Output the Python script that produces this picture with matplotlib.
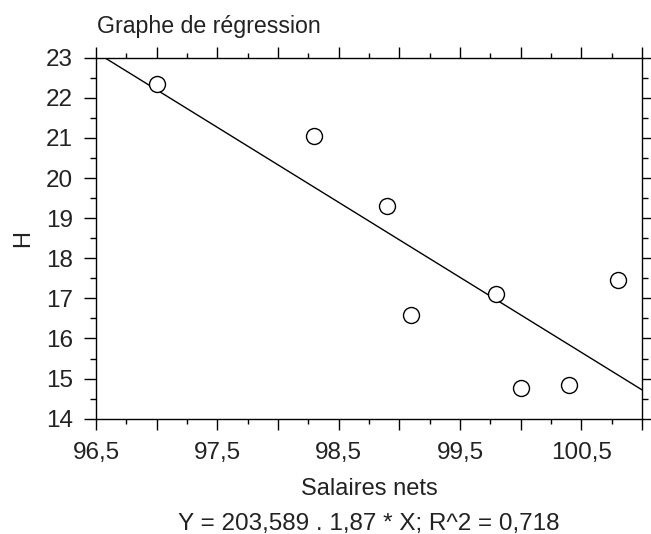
import numpy as np
import matplotlib
matplotlib.use("Agg")
from matplotlib import pyplot as plt
from matplotlib.ticker import MultipleLocator, FuncFormatter

salaires = [97.0, 98.3, 98.9, 99.1, 99.8, 100.0, 100.4, 100.8]
h_values = [22.35, 21.05, 19.30, 16.58, 17.12, 14.76, 14.85, 17.47]
intercept = 203.589
slope = -1.87

plt.rcParams['font.family'] = ['Liberation Sans', 'DejaVu Sans']
txt_color = '#222222'

fig = plt.figure(figsize=(6.51, 5.34), dpi=100)
ax = fig.add_axes([96/651, 1-418.7/534, (642-96)/651, (418.7-57.7)/534])

xlim = (96.5, 101.0)
ylim = (14, 23)
line_x = np.array(xlim)
ax.plot(line_x, intercept + slope*line_x, color='black', lw=1.0)
ax.plot(salaires, h_values, 'o', ms=11.5, mfc='white', mec='black', mew=1.0, zorder=3)

ax.set_xlim(*xlim)
ax.set_ylim(*ylim)

ax.xaxis.set_major_locator(MultipleLocator(0.5))
ax.xaxis.set_minor_locator(MultipleLocator(0.25))
ax.yaxis.set_major_locator(MultipleLocator(1))
ax.yaxis.set_minor_locator(MultipleLocator(0.5))

def xfmt(v, pos):
    r = (v - 96.5) % 1.0
    if r < 1e-6 or abs(r - 1) < 1e-6:
        return ('%.1f' % v).replace('.', ',')
    return ''

ax.xaxis.set_major_formatter(FuncFormatter(xfmt))
ax.yaxis.set_major_formatter(FuncFormatter(lambda v, p: '%d' % v))

ax.tick_params(which='both', direction='out', top=True, right=True, colors='black',
               labelcolor=txt_color, labelsize=17.5, width=1.0)
ax.tick_params(axis='x', which='major', length=8, pad=9)
ax.tick_params(axis='x', which='minor', length=3.3)
ax.tick_params(axis='y', which='major', length=8.5, pad=8)
ax.tick_params(axis='y', which='minor', length=4.3)

for s in ax.spines.values():
    s.set_linewidth(1.0)
    s.set_color('black')

ax.set_xlabel('Salaires nets', fontsize=17, color=txt_color, labelpad=9.5)
ax.set_ylabel('H', fontsize=17, color=txt_color, labelpad=8.5)

fig.text(97/651, 1-33/534, 'Graphe de régression', fontsize=16.7, color=txt_color,
         ha='left', va='baseline')
fig.text(369/651, 1-530/534, 'Y = 203,589 . 1,87 * X; R^2 = 0,718', fontsize=17.5,
         color=txt_color, ha='center', va='baseline')

fig.savefig('out.png', dpi=100)
